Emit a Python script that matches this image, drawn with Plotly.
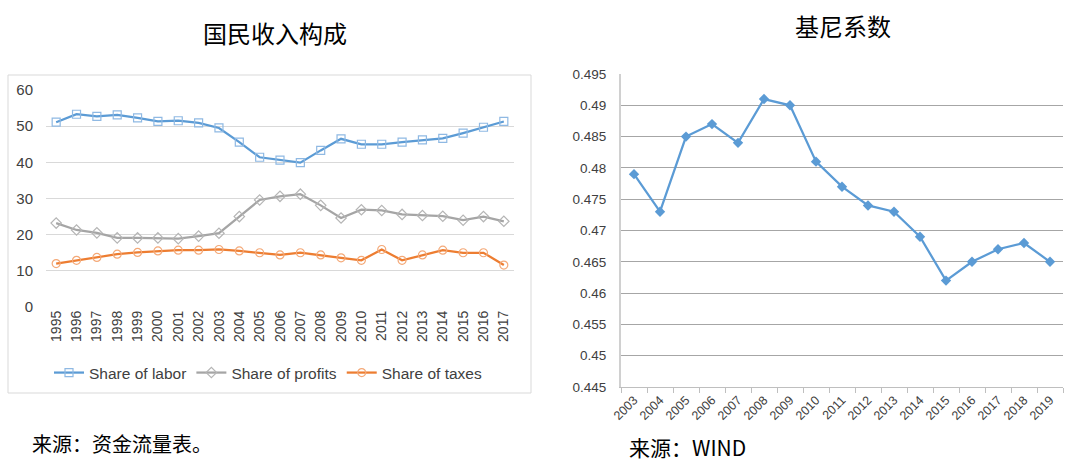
import plotly.graph_objects as go

# ---- Left chart data: 国民收入构成 ----
years_left = [str(y) for y in range(1995, 2018)]
share_labor = [51.1, 53.3, 52.7, 53.1, 52.3, 51.3, 51.5, 50.9, 49.5, 45.6, 41.4, 40.6,
               39.9, 43.3, 46.5, 45.0, 45.0, 45.6, 46.2, 46.6, 48.1, 49.7, 51.3]
share_profits = [23.2, 21.3, 20.5, 19.1, 19.1, 19.1, 18.9, 19.6, 20.4, 25.0, 29.6, 30.6,
                 31.2, 28.1, 24.6, 26.9, 26.7, 25.6, 25.3, 25.1, 24.0, 25.0, 23.7]
share_taxes = [12.0, 12.9, 13.7, 14.6, 15.1, 15.5, 15.7, 15.7, 15.9, 15.5, 15.0, 14.4,
               15.0, 14.4, 13.6, 12.9, 15.9, 12.9, 14.4, 15.7, 15.0, 15.0, 11.6]

# ---- Right chart data: 基尼系数 ----
years_right = [str(y) for y in range(2003, 2020)]
gini = [0.479, 0.473, 0.485, 0.487, 0.484, 0.491, 0.490, 0.481, 0.477, 0.474,
        0.473, 0.469, 0.462, 0.465, 0.467, 0.468, 0.465]
gini_ticks = [0.445, 0.45, 0.455, 0.46, 0.465, 0.47, 0.475, 0.48, 0.485, 0.49, 0.495]
gini_tick_labels = ["0.445", "0.45", "0.455", "0.46", "0.465", "0.47", "0.475",
                    "0.48", "0.485", "0.49", "0.495"]

W, H = 1080, 464
def px_x(x):
    return x / W
def px_y(y):
    return 1 - y / H

FONT = "Liberation Sans, Arial, sans-serif"
CJK = "Noto Sans CJK SC"

fig = go.Figure()

fig.add_trace(go.Scatter(
    x=years_left, y=share_labor, name="Share of labor", mode="lines+markers",
    line=dict(color="#5b9bd5", width=2.25),
    marker=dict(symbol="square-open", size=8, color="#8fb9e3", line=dict(width=1.2)),
    xaxis="x", yaxis="y"))
fig.add_trace(go.Scatter(
    x=years_left, y=share_profits, name="Share of profits", mode="lines+markers",
    line=dict(color="#a5a5a5", width=2.25),
    marker=dict(symbol="diamond-open", size=8, color="#b5b5b5", line=dict(width=1.2)),
    xaxis="x", yaxis="y"))
fig.add_trace(go.Scatter(
    x=years_left, y=share_taxes, name="Share of taxes", mode="lines+markers",
    line=dict(color="#ed7d31", width=2.25),
    marker=dict(symbol="circle-open", size=8, color="#f4a978", line=dict(width=1.2)),
    xaxis="x", yaxis="y"))

fig.add_trace(go.Scatter(
    x=years_right, y=gini, name="基尼系数", mode="lines+markers", showlegend=False,
    line=dict(color="#5b9bd5", width=2.25),
    marker=dict(symbol="diamond", size=8, color="#5b9bd5"),
    xaxis="x2", yaxis="y2"))

fig.update_layout(
    template="none",
    width=W, height=H,
    margin=dict(l=0, r=0, t=0, b=0, pad=0, autoexpand=False),
    paper_bgcolor="white", plot_bgcolor="white",
    font=dict(family=FONT, color="#404040"),
    showlegend=True,
    legend=dict(orientation="h", x=px_x(268), xanchor="center", y=px_y(373), yanchor="middle",
                font=dict(size=15.5, color="#404040", family=FONT),
                itemwidth=30, tracegroupgap=0, bgcolor="rgba(0,0,0,0)"),
    xaxis=dict(domain=[px_x(46), px_x(514)], type="category", range=[-0.5, 22.5],
               tickangle=-90, tickfont=dict(size=14, color="#404040"),
               showgrid=False, showline=False, zeroline=False, ticks="", anchor="y",
               automargin=False),
    yaxis=dict(domain=[px_y(307), px_y(90)], range=[0, 60], dtick=10,
               showgrid=True, gridcolor="#d9d9d9", gridwidth=1, zeroline=False,
               showline=False, ticks="", tickfont=dict(size=15, color="#404040"),
               ticklabelstandoff=12, anchor="x", automargin=False),
    xaxis2=dict(domain=[px_x(621), px_x(1063)], type="category", range=[-0.5, 16.5],
                tickangle=-45, tickfont=dict(size=12.5, color="#404040"),
                showgrid=False, showline=True, linecolor="#bfbfbf", linewidth=1,
                zeroline=False,
                ticks="outside", tickson="boundaries", ticklen=5, tickcolor="#bfbfbf",
                anchor="y2", automargin=False),
    yaxis2=dict(domain=[px_y(387), px_y(74)], range=[0.445, 0.495],
                tickvals=gini_ticks, ticktext=gini_tick_labels,
                showgrid=True, gridcolor="#a6a6a6", gridwidth=1, zeroline=False,
                showline=True, linecolor="#d0d0d0", linewidth=2, ticks="",
                tickfont=dict(size=13.5, color="#404040"),
                ticklabelstandoff=10, anchor="x2", automargin=False),
    shapes=[dict(type="rect", xref="paper", yref="paper",
                 x0=px_x(8), x1=px_x(531), y0=px_y(393), y1=px_y(75),
                 line=dict(color="#d9d9d9", width=1), fillcolor="rgba(0,0,0,0)",
                 layer="below")],
    annotations=[
        dict(text="国民收入构成", x=px_x(275), y=px_y(32), xref="paper", yref="paper",
             showarrow=False, font=dict(family=CJK, size=24, color="#000000"),
             xanchor="center", yanchor="middle"),
        dict(text="基尼系数", x=px_x(843), y=px_y(25), xref="paper", yref="paper",
             showarrow=False, font=dict(family=CJK, size=24, color="#000000"),
             xanchor="center", yanchor="middle"),
        dict(text="来源：资金流量表。", x=px_x(30), y=px_y(443), xref="paper", yref="paper",
             showarrow=False, font=dict(family=CJK, size=20, color="#000000"),
             xanchor="left", yanchor="middle"),
        dict(text="来源：WIND", x=px_x(627), y=px_y(447), xref="paper", yref="paper",
             showarrow=False, font=dict(family=CJK, size=21, color="#000000"),
             xanchor="left", yanchor="middle"),
    ],
)

fig.write_html("out.html",
               config={"displayModeBar": False},
               post_script="document.body.style.margin='0';document.body.style.overflow='hidden';")
